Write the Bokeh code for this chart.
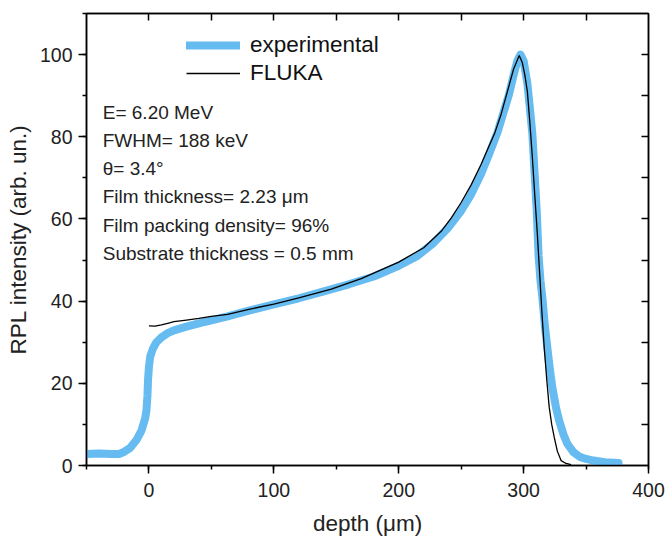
from bokeh.plotting import figure
from bokeh.models import (LinearAxis, FixedTicker, SingleIntervalTicker, Legend,
                          LegendItem, Label, Range1d, CustomJSTickFormatter)
from bokeh.embed import file_html
from bokeh.resources import INLINE

# ---- data ----
exp_depth = [-50, -40, -30, -24, -20, -15, -10, -6, -3, -2, -1.2, -0.7, 0, 1, 3, 6, 10, 15,
             20, 30, 40, 50, 63, 80, 100, 120, 140, 160, 180, 200, 215, 228, 240, 250,
             258, 266, 272, 279, 284, 288, 292, 295, 297.5, 300, 303, 305, 307, 309,
             310.5, 312, 313.5, 315, 317, 319, 321, 323, 326, 328.5, 332, 335, 340,
             345, 350, 356, 365, 376]
exp_rpl = [2.8, 2.9, 2.8, 2.8, 3.3, 4.3, 6.2, 8.5, 11.5, 13.4, 17, 21, 24, 26.5, 28.3, 30,
           31.2, 32.2, 32.9, 33.8, 34.6, 35.3, 36.3, 37.7, 39.2, 40.7, 42.4, 44.1, 46.0,
           48.6, 51, 54.2, 58, 62, 66, 71, 75.5, 81, 86, 90, 95, 98.5, 100, 98.5, 93,
           87, 80.7, 70, 62, 51, 45, 40.9, 34, 28.7, 23.5, 19, 14, 10.9, 7.5, 5.3, 3.2,
           2.1, 1.6, 1.2, 0.8, 0.6]

fluka_depth = [0, 5, 10, 15, 20, 30, 40, 50, 63, 80, 100, 120, 146, 170, 200, 220, 234,
               242, 250, 258, 266, 272, 277, 282, 287, 292, 296.5, 299, 301, 303, 305,
               307, 309, 311, 313, 314.5, 316.5, 318.5, 320.5, 322.5, 324.5, 327, 330,
               334, 338]
fluka_rpl = [34, 33.9, 34.2, 34.6, 35, 35.4, 35.8, 36.3, 36.8, 38, 39.3, 40.8, 42.9,
             45.5, 49.5, 53, 57, 60.2, 64, 68.3, 73.3, 77.5, 81, 85.5, 91, 96.5, 99.8,
             98, 95, 91, 83.5, 75, 65.5, 56.3, 46, 38, 28.7, 21, 14.2, 10, 6.9, 3.5,
             1.2, 0.5, 0.2]

series_names = ["experimental", "FLUKA"]
annotations = ["E= 6.20 MeV", "FWHM= 188 keV", "\u03b8= 3.4\u00b0",
               "Film thickness= 2.23 \u03bcm", "Film packing density= 96%",
               "Substrate thickness = 0.5 mm"]
x_label = "depth (\u03bcm)"
y_label = "RPL intensity (arb. un.)"

FONT = "Liberation Sans"
BLUE = "#66BBF0"

p = figure(frame_width=562, frame_height=452,
           x_range=Range1d(-50, 400), y_range=Range1d(0, 110),
           output_backend="svg", toolbar_location=None,
           min_border_left=86, min_border_right=17, min_border_top=13,
           min_border_bottom=72)
p.background_fill_color = "white"
p.border_fill_color = "white"
p.outline_line_color = "black"
p.outline_line_width = 1.5
p.xgrid.visible = False
p.ygrid.visible = False

r_exp = p.line(exp_depth, exp_rpl, line_color=BLUE, line_width=8,
               line_join="round", line_cap="round")
r_fl = p.line(fluka_depth, fluka_rpl, line_color="black", line_width=1.3)

# bottom axis
xa = p.xaxis[0]
xa.ticker = SingleIntervalTicker(interval=100, num_minor_ticks=2)
# left axis
ya = p.yaxis[0]
ya.ticker = SingleIntervalTicker(interval=20, num_minor_ticks=2)

for ax in (xa, ya):
    ax.axis_line_color = "black"
    ax.axis_line_width = 1.5
    ax.major_tick_line_color = "black"
    ax.major_tick_line_width = 1.5
    ax.minor_tick_line_color = "black"
    ax.minor_tick_line_width = 1.5
    ax.major_tick_in = 0
    ax.major_tick_out = 8
    ax.minor_tick_in = 0
    ax.minor_tick_out = 4
    ax.major_label_text_font = FONT
    ax.major_label_text_font_size = "19.5px"
    ax.major_label_text_color = "#222222"
    ax.axis_label_text_font = FONT
    ax.axis_label_text_font_size = "22.5px"
    ax.axis_label_text_font_style = "normal"
    ax.axis_label_text_color = "#222222"

xa.axis_label = x_label
xa.major_label_standoff = 9
xa.axis_label_standoff = 11
ya.axis_label = y_label
ya.major_label_standoff = 6
ya.axis_label_standoff = 6

blank = CustomJSTickFormatter(code="return ''")
top = LinearAxis(ticker=FixedTicker(ticks=[0, 50, 100, 150, 200, 250, 300, 350],
                                    minor_ticks=[]),
                 formatter=blank, major_label_standoff=0,
                 major_tick_in=7, major_tick_out=0,
                 axis_line_color="black", axis_line_width=1.5,
                 major_tick_line_width=1.5)
right = LinearAxis(ticker=FixedTicker(ticks=[10, 20, 30, 40, 50, 60, 70, 80, 90, 100],
                                      minor_ticks=[]),
                   formatter=blank, major_label_standoff=0,
                   major_tick_in=7, major_tick_out=0,
                   axis_line_color="black", axis_line_width=1.5,
                   major_tick_line_width=1.5)
p.add_layout(top, "above")
p.add_layout(right, "right")

legend = Legend(items=[LegendItem(label=series_names[0], renderers=[r_exp]),
                       LegendItem(label=series_names[1], renderers=[r_fl])],
                location=(100, 378), orientation="vertical",
                glyph_width=54, glyph_height=28, label_height=28,
                label_standoff=10, spacing=0, padding=0, margin=0,
                border_line_color=None, background_fill_alpha=0,
                label_text_font=FONT, label_text_font_size="22.5px",
                label_text_color="#111111")
p.add_layout(legend)

ann_x = -37
ann_y0 = 85.9
ann_step = 6.85
for i, txt in enumerate(annotations):
    p.add_layout(Label(x=ann_x, y=ann_y0 - i * ann_step, text=txt,
                       text_font=FONT, text_font_size="19px",
                       text_baseline="middle", text_align="left",
                       text_color="#222222"))

open("out.html", "w").write(file_html(p, INLINE))
